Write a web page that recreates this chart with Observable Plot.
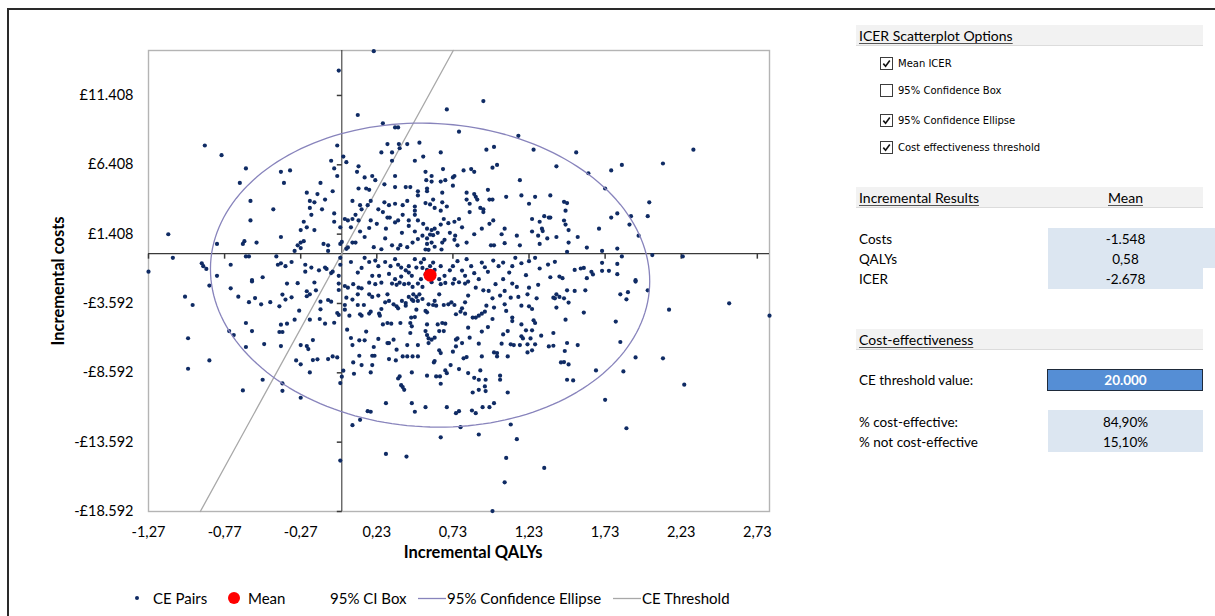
<!DOCTYPE html>
<html>
<head>
<meta charset="utf-8">
<script src="https://cdn.jsdelivr.net/npm/d3@7"></script>
<script src="https://cdn.jsdelivr.net/npm/@observablehq/plot@0.6"></script>
<style>
  body { margin: 0; background: #fff; font-family: Lato, "Open Sans", sans-serif; color: #000; }
  #page { position: relative; width: 1215px; height: 616px; overflow: hidden; }
  #sheet { position: absolute; left: 7px; top: 8px; width: 1400px; height: 800px; border-left: 2px solid #2a2a2a; border-top: 2px solid #2a2a2a; }
  #chart { position: absolute; left: 0; top: 0; }
  .legend { position: absolute; top: 588px; height: 20px; font-size: 15px; line-height: 20px; white-space: nowrap; }
  .legend svg { position: absolute; top: 0; }
  .band { position: absolute; left: 856px; width: 347px; height: 20px; background: #f2f2f2; border-bottom: 1px solid #dcdcdc; }
  .band span { position: absolute; left: 3px; top: 2px; font-size: 14px; text-decoration: underline; text-decoration-color: #555; text-underline-offset: 2px; }
  .opt { position: absolute; left: 880px; height: 14px; font-family: "DejaVu Sans", sans-serif; font-size: 10px; line-height: 13px; }
  .opt .box { position: absolute; left: 0; top: 0; width: 11px; height: 11px; border: 1px solid #3c3c3c; background: #fff; }
  .opt .txt { position: absolute; left: 18px; top: 0; white-space: nowrap; }
  .row { position: absolute; left: 859px; font-size: 13.5px; line-height: 18px; white-space: nowrap; }
  .cell { position: absolute; background: #dce6f1; }
  .val { position: absolute; left: 1048px; width: 155px; text-align: center; font-size: 13.5px; line-height: 18px; }
</style>
</head>
<body>
<div id="page">
  <div id="sheet"></div>
  <div id="chart"></div>
  <div id="legend"></div>
  <div id="panel"></div>
</div>
<script>
// Simulated incremental (QALY, cost) pairs from the probabilistic sensitivity analysis
const cePairs = [
  [-0.02,13200],[-0.90,7800],[-0.79,7100],[-0.63,6150],[-0.67,5100],[-0.03,7800],[0.01,7000],[0.03,6600],[-0.07,6700],[-0.05,6150],
  [-0.03,5600],[-0.40,5900],[-0.34,6000],[-0.38,5100],[-0.14,5100],[-0.23,4400],[-0.16,4300],[-0.06,4500],[-0.21,3800],[-0.18,3700],
  [-0.11,3900],[-0.21,3300],[-0.13,3200],[-0.20,2800],[-0.60,3800],[-0.45,3200],[-0.60,2400],[-0.25,2300],[-0.23,1900],[-0.18,1700],
  [-0.27,1700],[-0.05,2900],[-0.05,2300],[-0.01,1900],[0.02,2500],[0.04,2400],[0.07,2500],[0.06,1900],[0.07,3800],[-1.14,1400],
  [-0.82,700],[-0.64,900],[-0.65,700],[-0.56,800],[-0.40,1200],[-0.25,900],[-0.27,800],[-0.29,600],[-0.31,200],[-0.27,400],
  [-0.12,700],[-0.09,600],[-0.09,200],[-0.01,700],[0.00,850],[0.03,350],[0.04,450],[0.07,800],[-0.63,-200],[-0.61,-200],
  [-1.11,-300],[-0.92,-700],[-0.91,-900],[-0.89,-1100],[-0.73,-800],[-0.82,-1600],[-0.52,-1700],[-0.59,-1900],[-0.43,-200],[-0.42,-800],
  [-0.40,-700],[-0.37,-900],[-0.33,-600],[-0.24,-800],[-0.24,-1300],[-0.20,-1000],[-0.15,-1200],[-0.11,-1000],[-0.10,-1100],[-0.07,-1400],
  [-0.06,-1300],[-0.02,-1600],[-0.01,-800],[-0.01,-300],[0.06,-600],[-1.27,-1300],
  [0.21,14600],[0.93,11000],[0.69,10400],[0.105,10000],[0.27,9400],[0.35,9100],[0.37,9100],[0.77,8800],[1.16,8500],[0.30,7900],
  [0.375,7900],[0.43,7900],[0.51,8000],[0.26,7300],[0.33,7300],[0.38,7600],[0.33,6700],[0.48,6700],[0.535,7000],[0.65,7300],
  [0.95,7500],[1.00,7700],[1.26,7500],[0.11,6300],[0.10,5900],[0.35,5600],[0.55,5900],[0.59,5600],[0.665,6100],[0.74,5600],
  [0.80,6000],[0.85,6100],[0.87,5900],[0.99,6200],[1.02,6400],[1.41,6300],[0.15,5500],[0.20,5600],[0.22,5300],[0.28,5000],
  [0.555,5300],[0.59,5200],[0.65,5200],[0.68,5300],[0.73,5500],[1.17,5300],[0.16,4700],[0.18,4600],[0.35,4800],[0.42,4800],
  [0.45,4800],[0.50,4500],[0.50,4200],[0.56,4700],[0.56,4500],[0.66,4400],[0.73,4900],[0.82,4400],[0.87,4300],[0.88,4100],
  [0.96,4600],[0.97,3900],[0.99,3900],[1.08,4100],[1.18,4200],[1.23,3600],[1.27,4100],[1.37,4200],[0.11,4700],[0.19,3800],
  [0.12,3500],[0.17,3500],[0.28,3700],[0.31,3500],[0.35,3600],[0.40,3500],[0.43,3800],[0.48,3400],[0.48,3100],[0.55,3650],
  [0.58,3550],[0.60,3900],[0.61,3300],[0.65,3100],[0.69,3400],[0.66,3700],[0.82,3900],[0.84,3600],[0.89,3900],[0.91,3300],
  [0.93,3200],[0.93,3000],[0.84,3000],[0.13,3200],[0.09,2800],[0.11,2400],[0.19,2400],[0.23,2150],[0.24,3200],[0.27,3000],
  [0.30,2600],[0.315,2600],[0.35,2250],[0.37,2400],[0.40,2800],[0.44,2400],[0.44,2000],[0.48,2800],[0.50,2400],[0.535,2150],
  [0.56,1800],[0.59,1700],[0.61,1800],[0.65,2100],[0.67,2500],[0.70,2200],[0.74,2300],[0.77,2500],[0.79,1900],[0.92,1800],
  [0.97,2150],[0.995,2400],[1.07,1800],[1.05,1400],[1.15,1300],[1.25,2500],[1.33,2700],[1.36,2600],[1.37,2600],[1.30,2300],
  [1.315,1800],[1.32,1630],[1.25,1600],[1.29,1300],[1.35,1100],[1.41,1200],[1.30,700],[1.17,600],[1.00,600],[0.98,600],
  [1.07,760],[0.82,800],[0.76,600],[0.74,1000],[0.675,1000],[0.66,800],[0.655,300],[0.61,500],[0.59,800],[0.56,700],
  [0.55,300],[0.57,280],[0.53,1300],[0.50,1050],[0.465,800],[0.43,470],[0.385,610],[0.37,370],[0.33,600],[0.285,1100],
  [0.26,320],[0.21,470],[0.15,1200],[0.09,800],[0.12,1600],[0.18,1850],[0.29,1800],[0.395,1500],[0.48,1600],[0.63,1500],
  [0.71,1500],[0.745,1300],[0.87,1400],[0.56,1100],[0.58,1380],[0.60,1330],
  [0.15,-300],[0.18,-600],[0.22,-500],[0.24,-900],[0.285,-600],[0.32,-900],[0.35,-400],[0.37,-800],[0.39,-1000],[0.42,-1200],
  [0.44,-900],[0.48,-400],[0.49,-1000],[0.52,-640],[0.54,-400],[0.60,-640],[0.61,-1170],[0.65,-900],[0.675,-1600],[0.71,-1200],
  [0.73,-900],[0.76,-540],[0.79,-1220],[0.82,-400],[0.85,-900],[0.87,-1410],[0.92,-640],[0.94,-980],[0.96,-1310],[0.995,-500],
  [1.03,-900],[1.06,-640],[1.10,-1360],[1.12,-900],[1.14,-300],[1.18,-690],[1.23,-540],[1.27,-300],[1.30,-1070],[1.355,-790],
  [1.40,-590],[1.43,-1650],[1.37,-1700],[0.13,-1030],[0.105,-1360],[0.20,-1600],[0.245,-1600],[0.31,-1460],[0.35,-1840],[0.39,-1650],
  [0.46,-1600],[0.52,-1840],[0.55,-1500],[0.64,-1840],[0.74,-1840],[0.81,-1600],[0.90,-1840],[1.06,-1840],[1.21,-1550],[0.44,-1360],
  [0.53,-1030],[0.56,-1170],[0.58,-900],
  [2.31,7500],[2.11,6500],[1.54,7300],[1.84,6400],[1.77,6000],[1.62,5800],[1.73,4700],[2.02,3700],[2.01,2700],[1.90,2700],
  [1.81,2900],[1.77,2600],[1.89,2100],[1.69,1800],[1.95,1300],[1.55,1200],[1.49,1700],[1.47,3100],[1.46,3740],[1.48,3650],
  [1.46,2390],[1.47,2100],[1.49,800],[1.48,130],[1.61,440],[1.71,200],[1.81,370],[1.84,-200],[2.04,-100],[2.24,-200],
  [1.71,-660],[1.81,-740],[1.53,-1170],[1.57,-1070],[1.59,-1030],[1.64,-1310],[1.65,-1500],[1.71,-1240],[1.755,-1240],[1.81,-1480],
  [1.61,-1770],[1.93,-1910],[1.45,-1770],
  [-1.03,-3100],[-0.98,-3700],[-1.01,-6100],[-0.87,-7700],[-1.01,-8300],[-0.87,-2300],[-0.73,-2500],[-0.68,-3100],[-0.61,-3500],[-0.57,-3200],
  [-0.53,-3650],[-0.47,-3500],[-0.59,-2000],[-0.36,-2160],[-0.29,-2130],[-0.18,-2080],[-0.39,-2950],[-0.33,-3150],[-0.23,-2710],[-0.21,-2930],
  [-0.23,-3070],[-0.41,-3800],[-0.37,-3310],[-0.28,-4110],[-0.17,-2640],[-0.14,-3460],[-0.09,-3340],[-0.07,-3460],[-0.14,-4010],[-0.145,-4710],
  [-0.11,-5050],[-0.05,-4980],[-0.03,-4280],[-0.02,-4420],[-0.02,-2160],[-0.02,-2620],[0.02,-2330],[0.04,-2450],[0.03,-3170],[0.02,-3700],
  [0.02,-4040],[0.05,-4470],[0.07,-3310],[0.075,-2200],[-0.63,-5000],[-0.59,-5580],[-0.74,-5580],[-0.71,-5870],[-0.63,-6730],[-0.51,-6520],
  [-0.41,-5650],[-0.39,-5650],[-0.40,-5120],[-0.36,-5050],[-0.31,-4760],[-0.21,-4760],[-0.40,-6660],[-0.27,-6590],[-0.23,-6660],[-0.22,-6880],
  [-0.19,-6230],[-0.30,-7700],[-0.27,-7980],[-0.19,-7670],[-0.16,-7620],[-0.21,-8560],[-0.09,-7600],[-0.06,-7410],[-0.03,-7480],[0.035,-5480],
  [0.06,-6080],[0.07,-6590],[0.075,-7840],[0.01,-8440],[0.00,-8870],[-0.01,-9330],[0.08,-8660],[-0.52,-9090],[-0.65,-9860],[-0.39,-9360],
  [-0.39,-9890],[-0.27,-10390],[0.07,-12370],[-0.01,-14920],
  [0.11,-2450],[0.13,-2500],[0.18,-2090],[0.22,-2200],[0.26,-2090],[0.33,-2160],[0.36,-2250],[0.38,-2090],[0.41,-2200],[0.44,-2160],
  [0.465,-2400],[0.50,-2160],[0.53,-2400],[0.59,-2060],[0.65,-2200],[0.68,-2110],[0.73,-2160],[0.77,-2060],[0.81,-2160],[0.83,-2010],
  [0.88,-2450],[0.93,-2640],[0.965,-2690],[1.01,-2200],[1.07,-2690],[1.12,-2160],[1.15,-2400],[1.23,-2450],[1.29,-2250],[1.41,-2930],
  [1.43,-3120],[1.39,-3170],[0.105,-2930],[0.18,-2930],[0.20,-3120],[0.24,-3020],[0.145,-3700],[0.105,-3700],[0.19,-4180],[0.18,-4320],
  [0.12,-4370],[0.245,-4330],[0.25,-4470],[0.26,-3990],[0.285,-3510],[0.30,-2930],[0.31,-3410],[0.34,-3650],[0.36,-3800],[0.37,-3940],
  [0.395,-3410],[0.42,-3560],[0.42,-3750],[0.44,-3120],[0.46,-3310],[0.47,-3410],[0.47,-2930],[0.49,-3120],[0.50,-3410],[0.51,-2930],
  [0.53,-3270],[0.55,-4130],[0.56,-4230],[0.57,-3650],[0.60,-3700],[0.61,-3410],[0.62,-3750],[0.64,-2930],[0.67,-3700],[0.70,-3650],
  [0.72,-3510],[0.74,-3700],[0.75,-4370],[0.78,-4180],[0.79,-3940],[0.81,-4330],[0.81,-3510],[0.83,-3020],[0.86,-4610],[0.88,-4610],
  [0.90,-4470],[0.92,-4330],[0.94,-4180],[0.95,-3750],[0.99,-3220],[1.00,-3890],[1.04,-3020],[1.07,-3650],[1.08,-4130],[1.11,-3170],
  [1.12,-4610],[1.12,-4860],[1.16,-3120],[1.18,-3750],[1.18,-5100],[1.22,-2930],[1.23,-3800],[1.25,-3990],[1.26,-4810],[1.27,-5000],
  [1.28,-3220],[1.31,-5910],[1.36,-6690],[1.39,-5720],[1.40,-3220],[1.41,-3890],[1.44,-7840],
  [0.13,-4470],[0.16,-5620],[0.115,-6250],[0.15,-6250],[0.24,-6150],[0.27,-5100],[0.30,-5000],[0.325,-5050],[0.31,-6450],[0.34,-6200],
  [0.385,-5000],[0.45,-5000],[0.456,-4610],[0.46,-5240],[0.45,-5720],[0.48,-4570],[0.49,-4040],[0.56,-5100],[0.56,-5870],[0.57,-6110],
  [0.59,-6200],[0.61,-6060],[0.57,-6450],[0.50,-6590],[0.55,-5580],[0.63,-5100],[0.64,-5580],[0.66,-5000],[0.67,-5580],[0.68,-5050],
  [0.75,-6200],[0.76,-6110],[0.79,-6450],[0.84,-6060],[0.83,-5340],[0.90,-6490],[0.92,-5620],[0.96,-5290],[0.99,-4710],[1.05,-6490],
  [1.06,-5820],[1.09,-5580],[1.11,-6540],[1.13,-6590],[1.17,-6590],[1.18,-5960],[1.19,-6110],[1.21,-5530],[1.22,-6540],[1.24,-6110],
  [1.25,-5530],[1.27,-6540],
  [0.115,-7360],[0.13,-8030],[0.20,-7360],[0.215,-7360],[0.21,-6730],[0.20,-8030],[0.19,-8560],[0.30,-6450],[0.31,-7600],[0.355,-7700],
  [0.36,-6920],[0.40,-7410],[0.43,-6590],[0.43,-7410],[0.465,-7410],[0.46,-8560],[0.50,-7410],[0.38,-8850],[0.37,-9000],[0.39,-9480],
  [0.40,-9620],[0.41,-9820],[0.56,-8800],[0.605,-7840],[0.61,-7740],[0.62,-8850],[0.645,-8850],[0.65,-9380],[0.64,-6970],[0.65,-7170],
  [0.68,-8420],[0.69,-8620],[0.715,-8030],[0.73,-7070],[0.75,-6690],[0.77,-8320],[0.80,-7550],[0.82,-7460],[0.83,-8610],[0.87,-8950],
  [0.90,-9090],[0.91,-8420],[0.92,-7410],[0.86,-10010],[0.90,-9820],[0.94,-9570],[0.945,-9090],[0.945,-9910],[1.00,-7120],[1.02,-7170],
  [1.02,-7410],[1.04,-9090],[1.04,-8800],[1.09,-10010],[1.09,-7410],[1.22,-7120],[1.25,-6970],[1.39,-6640],
  [0.29,-10780],[0.46,-10780],[0.48,-11400],[0.55,-11070],[0.69,-11070],[0.75,-11500],[0.77,-11360],[0.855,-11310],[0.88,-11500],[0.925,-11070],
  [0.97,-11070],[1.00,-10780],[0.17,-11360],[0.19,-11400],[0.12,-11980],[0.78,-12510],[1.11,-12320],[0.65,-13240],[0.90,-13040],[1.15,-13380],
  [0.29,-14440],[0.425,-14630],[1.08,-14730],[1.33,-15450],[1.07,-16490],[0.99,-18560],
  [1.93,-2010],[1.48,-2640],[1.53,-2690],[1.60,-2640],[1.83,-2930],[1.88,-2780],[1.87,-3290],[2.01,-2640],[1.46,-3220],[1.49,-3530],
  [1.59,-4250],[1.47,-4760],[1.80,-4900],[2.15,-4040],[2.545,-3580],[2.81,-4470],[1.48,-6440],[1.55,-6590],[1.465,-7020],[1.83,-6370],
  [1.46,-7820],[1.49,-7990],[1.93,-7480],[2.11,-7550],[1.67,-8420],[1.85,-8490],[1.48,-9090],[1.52,-9140],[2.25,-9450],[1.73,-10540],
  [1.87,-12590]
];

// Summary results
const meanResult = [{qaly: 0.58, cost: -1548}];
const resultLabels = ["Costs", "QALYs", "ICER"];
const resultValues = ["-1.548", "0,58", "-2.678"];
const ceThreshold = 20000;
const ceLabels = ["% cost-effective:", "% not cost-effective"];
const ceValues = ["84,90%", "15,10%"];

// 95% confidence ellipse: centre at the mean, half-extents and correlation
const ellipseHalfExtent = [1.443, 10960];
const ellipseCorrelation = -0.04;

// Axes
const qalyDomain = [-1.27, 2.81];
const costDomain = [-18592, 14650];
const qalyTicks = [-1.27, -0.77, -0.27, 0.23, 0.73, 1.23, 1.73, 2.23, 2.73];
const costTicks = [-18592, -13592, -8592, -3592, 1408, 6408, 11408];

const groupThousands = v => String(Math.round(Math.abs(v))).replace(/\B(?=(\d{3})+(?!\d))/g, ".");
const formatCost = v => (v < 0 ? "-" : "") + "£" + groupThousands(v);
const formatQaly = v => v.toFixed(2).replace(".", ",");

// Ellipse outline in data coordinates
const [mq, mc] = [meanResult[0].qaly, meanResult[0].cost];
const ellipsePath = d3.range(0, 361, 2).map(deg => {
  const t = deg * Math.PI / 180;
  const u = Math.cos(t);
  const v = ellipseCorrelation * Math.cos(t) + Math.sqrt(1 - ellipseCorrelation ** 2) * Math.sin(t);
  return {qaly: mq + ellipseHalfExtent[0] * u, cost: mc + ellipseHalfExtent[1] * v};
});

// Willingness-to-pay line: cost = threshold × QALY, across the cost range
const thresholdLine = costDomain.map(c => ({qaly: c / ceThreshold, cost: c}));

// Small tick marks drawn on the zero axes
const tickDown = {draw(ctx) { ctx.moveTo(0, 0); ctx.lineTo(0, 5); }};
const tickLeft = {draw(ctx) { ctx.moveTo(0, 0); ctx.lineTo(-5, 0); }};

const axisColor = "#3a3a3a";
const chart = Plot.plot({
  width: 800,
  height: 580,
  marginLeft: 148,
  marginRight: 31,
  marginTop: 50,
  marginBottom: 69,
  x: {domain: qalyDomain},
  y: {domain: costDomain},
  style: {fontFamily: "Lato, 'Open Sans', sans-serif", fontSize: "14px", color: "#000", background: "transparent"},
  marks: [
    Plot.frame({stroke: "#b4b4b4", strokeWidth: 1.4}),
    Plot.axisX(qalyTicks, {tickSize: 0, tickPadding: 15, tickFormat: formatQaly, label: null, fontSize: 14.5}),
    Plot.axisY(costTicks, {tickSize: 0, tickPadding: 15, tickFormat: formatCost, label: null, fontSize: 14.5}),
    Plot.ruleX([0], {stroke: axisColor, strokeWidth: 1.1}),
    Plot.ruleY([0], {stroke: axisColor, strokeWidth: 1.1}),
    Plot.dot(qalyTicks, {x: d => d, y: 0, r: 1, symbol: tickDown, fill: "none", stroke: axisColor}),
    Plot.dot(costTicks, {x: 0, y: d => d, r: 1, symbol: tickLeft, fill: "none", stroke: axisColor}),
    Plot.line(thresholdLine, {x: "qaly", y: "cost", stroke: "#a8a8a8", strokeWidth: 1.3}),
    Plot.dot(cePairs, {x: d => d[0], y: d => d[1], r: 2.1, fill: "#0f2b64", stroke: "none"}),
    Plot.line(ellipsePath, {x: "qaly", y: "cost", stroke: "#8884bc", strokeWidth: 1.3, curve: "linear"}),
    Plot.dot(meanResult, {x: "qaly", y: "cost", r: 6.5, fill: "#ff0000", stroke: "none"}),
    Plot.text(["Incremental QALYs"], {frameAnchor: "bottom", lineAnchor: "middle", textAnchor: "middle", dx: 14, dy: 41, fontWeight: "bold", fontSize: 16.5}),
    Plot.text(["Incremental costs"], {frameAnchor: "left", lineAnchor: "middle", textAnchor: "middle", dx: -90, rotate: -90, fontWeight: "bold", fontSize: 16.5})
  ]
});
document.getElementById("chart").appendChild(chart);

// Legend below the chart
const legendItems = [
  {label: "CE Pairs", left: 131, marker: "dot", color: "#0f2b64", r: 2},
  {label: "Mean", left: 226, marker: "dot", color: "#ff0000", r: 6},
  {label: "95% CI Box", left: 330, marker: "none"},
  {label: "95% Confidence Ellipse", left: 418, marker: "line", color: "#8884bc"},
  {label: "CE Threshold", left: 613, marker: "line", color: "#a8a8a8"}
];
const legend = document.getElementById("legend");
for (const item of legendItems) {
  const el = document.createElement("div");
  el.className = "legend";
  el.style.left = item.left + "px";
  let pad = 0, svg = "";
  if (item.marker === "dot") {
    const w = item.r > 3 ? 16 : 12;
    svg = `<svg width="${w}" height="20"><circle cx="${w / 2}" cy="10" r="${item.r}" fill="${item.color}"/></svg>`;
    pad = 22;
  } else if (item.marker === "line") {
    svg = `<svg width="28" height="20"><line x1="0" x2="28" y1="10.5" y2="10.5" stroke="${item.color}" stroke-width="1.3"/></svg>`;
    pad = 29;
  }
  el.innerHTML = svg + `<span style="position:absolute;left:${pad}px;top:0">${item.label}</span>`;
  legend.appendChild(el);
}

// Side panel with options and results
const panel = document.getElementById("panel");
const check = `<svg width="11" height="11" style="position:absolute;left:0;top:0"><path d="M2.3 5.6 L4.6 8.2 L8.8 2.6" fill="none" stroke="#111" stroke-width="1.6"/></svg>`;
const options = [
  {label: "Mean ICER", on: true, top: 57},
  {label: "95% Confidence Box", on: false, top: 84},
  {label: "95% Confidence Ellipse", on: true, top: 114},
  {label: "Cost effectiveness threshold", on: true, top: 141}
];
let html = "";
html += `<div class="band" style="top:25px"><span>ICER Scatterplot Options</span></div>`;
for (const o of options) {
  html += `<div class="opt" style="top:${o.top}px"><div class="box">${o.on ? check : ""}</div><div class="txt">${o.label}</div></div>`;
}
html += `<div class="band" style="top:187px"><span>Incremental Results</span><span style="left:252px">Mean</span></div>`;
html += `<div class="cell" style="left:1048px;top:228px;width:167px;height:40px"></div>`;
html += `<div class="cell" style="left:1048px;top:268px;width:155px;height:21px"></div>`;
resultLabels.forEach((l, i) => {
  const top = 230 + i * 20;
  html += `<div class="row" style="top:${top}px">${l}</div>`;
  html += `<div class="val" style="top:${top}px">${resultValues[i]}</div>`;
});
html += `<div class="band" style="top:329px"><span>Cost-effectiveness</span></div>`;
html += `<div class="row" style="top:371px">CE threshold value:</div>`;
html += `<div style="position:absolute;left:1047px;top:369px;width:154px;height:20px;background:#558ed5;border:1px solid #1e2a3a"></div>`;
html += `<div class="val" style="top:371px;color:#fff;font-weight:bold">${groupThousands(ceThreshold)}</div>`;
html += `<div class="cell" style="left:1048px;top:410px;width:155px;height:42px"></div>`;
ceLabels.forEach((l, i) => {
  const top = 413 + i * 20;
  html += `<div class="row" style="top:${top}px">${l}</div>`;
  html += `<div class="val" style="top:${top}px">${ceValues[i]}</div>`;
});
panel.innerHTML = html;
</script>
</body>
</html>
